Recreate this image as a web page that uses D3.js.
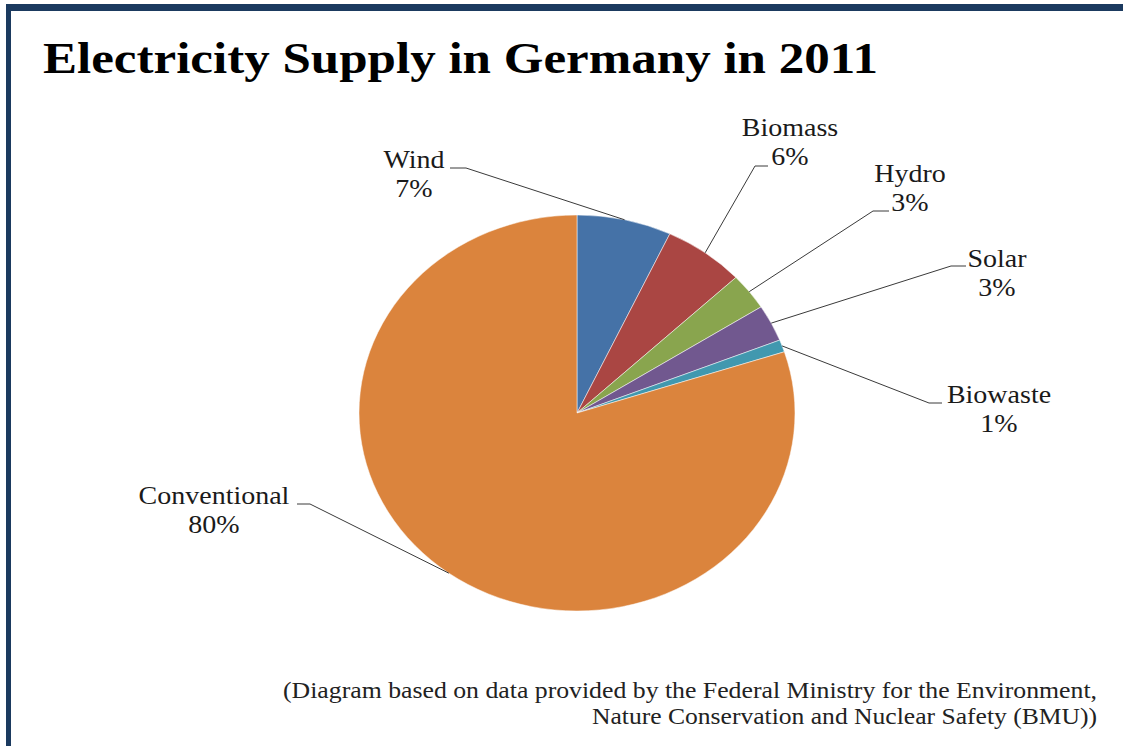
<!DOCTYPE html>
<html>
<head>
<meta charset="utf-8">
<script src="https://cdn.jsdelivr.net/npm/d3@7"></script>
<style>
  html, body { margin: 0; padding: 0; background: #ffffff; }
  svg { display: block; }
  svg text { font-family: "Liberation Serif", "Times New Roman", serif; }
</style>
</head>
<body>
<svg id="chart" width="1123" height="746"></svg>
<script>
// ---- data ----
const categories = ["Wind", "Biomass", "Hydro", "Solar", "Biowaste", "Conventional"];
const values = [7, 6, 3, 3, 1, 80];
const percentLabels = ["7%", "6%", "3%", "3%", "1%", "80%"];
const colors = ["#4572A7", "#AA4643", "#89A54E", "#71588F", "#4198AF", "#DB843D"];
const titleText = "Electricity Supply in Germany in 2011";
const noteLines = [
  "(Diagram based on data provided by the Federal Ministry for the Environment,",
  "Nature Conservation and Nuclear Safety (BMU))"
];

// ---- layout (label placement, not data) ----
const labelLayout = [
  { tx: 414, ty: 168, ex1: 450, ex2: 466, ey: 168 },   // Wind
  { tx: 790, ty: 136, ex1: 768, ex2: 755, ey: 166 },   // Biomass
  { tx: 910, ty: 182, ex1: 889, ex2: 873, ey: 211 },   // Hydro
  { tx: 997, ty: 267, ex1: 966, ex2: 951, ey: 266 },   // Solar
  { tx: 999, ty: 403, ex1: 942, ex2: 929, ey: 403 },   // Biowaste
  { tx: 214, ty: 504, ex1: 297, ex2: 310, ey: 504 }    // Conventional
];

const FONT = '"Liberation Serif", "Times New Roman", serif';
const svg = d3.select("#chart");
const cx = 577, cy = 413, ry = 198, rx = 218;
const sx = rx / ry;

// frame
svg.append("rect").attr("x", 6).attr("y", 4).attr("width", 1117).attr("height", 7).attr("fill", "#1B3A5F");
svg.append("rect").attr("x", 6).attr("y", 4).attr("width", 5).attr("height", 742).attr("fill", "#1B3A5F");

// title
svg.append("text")
  .attr("x", 43).attr("y", 73)
  .style("font-family", FONT)
  .style("font-weight", "bold")
  .style("font-size", "45px")
  .attr("fill", "#000")
  .attr("textLength", 835)
  .attr("lengthAdjust", "spacingAndGlyphs")
  .text(titleText);

// pie
const data = categories.map((c, i) => ({ name: c, value: values[i], pct: percentLabels[i], color: colors[i], i }));
const pie = d3.pie().value(d => d.value).sort(null);
const arcs = pie(data);
const arc = d3.arc().innerRadius(0).outerRadius(ry);

const g = svg.append("g").attr("transform", `translate(${cx},${cy}) scale(${sx},1)`);
g.selectAll("path").data(arcs).join("path")
  .attr("d", arc)
  .attr("fill", d => d.data.color)
  .attr("stroke", "#ffffff")
  .attr("stroke-width", 0.5)
  .attr("vector-effect", "non-scaling-stroke");

// leader lines
const lines = svg.append("g");
arcs.forEach((a, i) => {
  const L = labelLayout[i];
  const m = (a.startAngle + a.endAngle) / 2;
  const ax = cx + rx * Math.sin(m);
  const ay = cy - ry * Math.cos(m);
  lines.append("path")
    .attr("d", d3.line()([[L.ex1, L.ey], [L.ex2, L.ey], [ax, ay]]))
    .attr("fill", "none")
    .attr("stroke", "#3a3a3a")
    .attr("stroke-width", 1);
});

// labels
const labels = svg.append("g");
arcs.forEach((a, i) => {
  const L = labelLayout[i];
  const lg = labels.append("g").attr("transform", `translate(${L.tx},${L.ty}) scale(1.12,1)`);
  [a.data.name, a.data.pct].forEach((t, k) => {
    lg.append("text")
      .attr("text-anchor", "middle")
      .attr("x", 0).attr("y", k * 29)
      .style("font-family", FONT)
      .style("font-size", "25px")
      .attr("fill", "#1a1a1a")
      .text(t);
  });
});

// footnote
noteLines.forEach((t, k) => {
  svg.append("text")
    .attr("x", 1097).attr("y", 698 + k * 26)
    .attr("text-anchor", "end")
    .style("font-family", FONT)
    .style("font-size", "23px")
    .attr("fill", "#222")
    .attr("textLength", k === 0 ? 814 : 505)
    .attr("lengthAdjust", "spacingAndGlyphs")
    .text(t);
});
</script>
</body>
</html>
